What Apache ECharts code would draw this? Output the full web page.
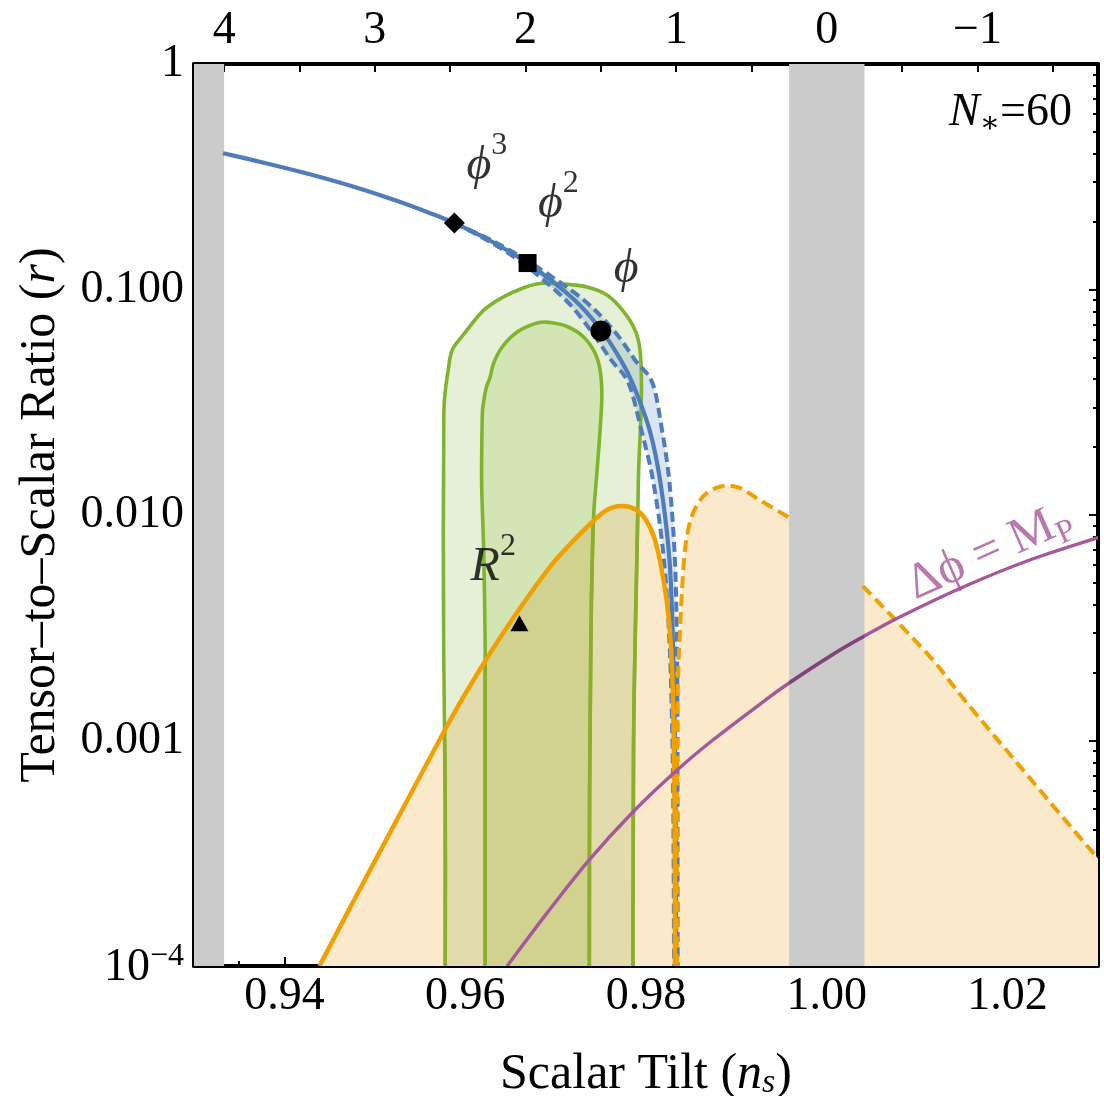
<!DOCTYPE html>
<html>
<head>
<meta charset="utf-8">
<title>Tensor-to-scalar ratio vs scalar tilt</title>
<script src="https://cdn.jsdelivr.net/npm/echarts@6/dist/echarts.min.js"></script>
<style>
  html, body { margin: 0; padding: 0; background: #fff; }
  #chart { width: 1104px; height: 1096px; }
</style>
</head>
<body>
<div id="chart"></div>
<script>
// ---------- data: (n_s, r) pairs ----------
// monomial phi^p attractor line at N* = 60
const phiCurve = [
  [0.9332, 0.402], [0.9375, 0.367], [0.9425, 0.327], [0.9475, 0.287], [0.9525, 0.247],
  [0.9560, 0.219], [0.9588, 0.197], [0.9626, 0.166], [0.9670, 0.130], [0.9721, 0.0898],
  [0.9752, 0.0648], [0.9772, 0.0487], [0.9785, 0.0385], [0.9804, 0.0238], [0.9816, 0.0139],
  [0.9826, 0.0063], [0.9830, 0.0025], [0.98323, 0.00082], [0.9833, 0.000267], [0.98332, 0.0001]
];
// dashed edges of the phi^p band
const phiBandHigh = [
  [0.95878, 0.197], [0.96283, 0.1658], [0.96747, 0.1297], [0.97311, 0.0898], [0.97657, 0.0648],
  [0.97878, 0.0487], [0.98071, 0.0385], [0.98177, 0.0238], [0.98260, 0.01387], [0.98320, 0.0063],
  [0.98343, 0.0025], [0.98348, 0.00082], [0.98349, 0.000267], [0.98350, 0.0001]
];
const phiBandLow = [
  [0.95878, 0.197], [0.96239, 0.1658], [0.96648, 0.1297], [0.97112, 0.0898], [0.97401, 0.0648],
  [0.97613, 0.0487], [0.97806, 0.0385], [0.97948, 0.0238], [0.98083, 0.01387], [0.98199, 0.0063],
  [0.98264, 0.0025], [0.98296, 0.00082], [0.98306, 0.000267], [0.98310, 0.0001]
];
// Planck contours (95% outer, 68% inner)
const planck95 = [
  [0.95779, 1e-4], [0.95779, 5.45e-4], [0.95762, 2.52e-3], [0.95757, 8.32e-3], [0.95762, 0.01942],
  [0.95768, 0.03139], [0.95812, 0.04395], [0.95856, 0.0539], [0.95978, 0.06284], [0.96199, 0.0806],
  [0.96420, 0.0926], [0.96641, 0.1016], [0.96829, 0.1064], [0.97083, 0.1058], [0.97348, 0.1026],
  [0.97569, 0.0945], [0.97746, 0.0803], [0.97878, 0.06613], [0.97934, 0.0539], [0.97950, 0.03694],
  [0.97939, 0.02456], [0.97917, 0.01504], [0.97901, 7.0e-3], [0.97878, 2.52e-3], [0.97862, 9.08e-4],
  [0.97856, 1e-4]
];
const planck68 = [
  [0.96221, 1e-4], [0.96221, 5.45e-4], [0.96221, 2.52e-3], [0.96204, 7.0e-3], [0.96182, 0.01386],
  [0.96188, 0.02637], [0.96199, 0.03075], [0.96232, 0.03657], [0.96276, 0.04093], [0.96315, 0.04721],
  [0.96409, 0.05559], [0.96575, 0.06479], [0.96796, 0.07103], [0.96939, 0.0714], [0.97127, 0.06854],
  [0.97304, 0.06188], [0.97436, 0.05231], [0.97492, 0.04395], [0.97512, 0.03405], [0.97492, 0.02381],
  [0.97459, 0.01583], [0.97420, 9.8e-3], [0.97400, 4.99e-3], [0.97389, 2.52e-3], [0.97376, 5.45e-4],
  [0.97373, 1e-4]
];
// R^2 family: solid edge, and dashed edge split by the n_s = 1 band
const r2Solid = [
  [0.94387, 1e-4], [0.94696, 1.72e-4], [0.95061, 3.24e-4], [0.95757, 1.08e-3], [0.96000, 1.61e-3],
  [0.96298, 2.52e-3], [0.96608, 3.87e-3], [0.96972, 6.12e-3], [0.97348, 8.85e-3], [0.97547, 0.01041],
  [0.97713, 0.01096], [0.97878, 0.01063], [0.98000, 9.50e-3], [0.98099, 7.75e-3], [0.98188, 5.31e-3],
  [0.98254, 3.42e-3], [0.98293, 1.855e-3], [0.98313, 6.68e-4], [0.98320, 2.41e-4], [0.98320, 1e-4]
];
const r2DashedLeft = [
  [0.98340, 1e-4], [0.98343, 7.39e-4], [0.98354, 1.85e-3], [0.98376, 3.09e-3], [0.98398, 4.65e-3],
  [0.98431, 7.0e-3], [0.98486, 9.3e-3], [0.98564, 0.01106], [0.98674, 0.01253], [0.98851, 0.01346],
  [0.99039, 0.01318], [0.99260, 0.01164], [0.99591, 9.71e-3]
];
const r2DashedRight = [
  [1.00398, 4.84e-3], [1.00729, 3.53e-3], [1.01171, 2.28e-3], [1.01525, 1.51e-3],
  [1.02077, 8.2e-4], [1.02608, 4.58e-4], [1.03000, 3.0e-4]
];
// Planckian field excursion
const deltaPhiPlanck = [
  [0.96464, 1e-4], [0.96906, 1.72e-4], [0.97370, 2.95e-4], [0.97856, 4.82e-4], [0.98320, 7.25e-4],
  [0.98740, 1.005e-3], [0.99337, 1.528e-3], [0.99591, 1.808e-3], [1.00066, 2.406e-3], [1.00398, 2.877e-3],
  [1.00807, 3.53e-3], [1.01547, 4.87e-3], [1.02276, 6.38e-3], [1.03000, 7.94e-3]
];
// excluded n_s bands
const grayBands = [[0.93000, 0.93333], [0.99583, 1.00417]];
// model points: phi^3, phi^2, phi, R^2
const markerNs = [0.9588, 0.9669, 0.9750, 0.9660];
const markerR = [0.197, 0.131, 0.0655, 0.00331];
// annotation anchors
const labelAnchors = {
  phi3: [0.9624, 0.375], phi2: [0.9703, 0.2545], phi1: [0.9778, 0.130],
  r2: [0.9631, 0.00625], dphi: [1.0180, 0.00686]
};
// axes
const xTickValues = [0.94, 0.96, 0.98, 1.00, 1.02];
const xMinorTicks = [0.935, 0.945, 0.95, 0.955, 0.965, 0.97, 0.975, 0.985, 0.99, 0.995, 1.005, 1.01, 1.015, 1.025];
const pTickValues = [4, 3.5, 3, 2.5, 2, 1.5, 1, 0.5, 0, -0.5, -1, -1.5];
const pLabelValues = [4, 3, 2, 1, 0, -1];
const yTickLabels = ['10^\u22124', '0.001', '0.010', '0.100', '1'];
const yMinorMultipliers = [2, 3, 4, 5, 6, 7, 8, 9];
const yDecades = [-4, -3, -2, -1];

// ---------- styling ----------
const SERIF = "'Liberation Serif', 'DejaVu Serif', serif";
const R_MIN = 1e-4, R_MAX = 1;
const BLUE = '#4f7dbb', ORANGE = '#f0a000', GREEN = '#7fb42e', PURPLE = '#a6589b';
const FILL = {
  orange: '#fbe9cc', outer: '#e6f0d7', inner: '#d3e5b4', band: '#dbe5f2',
  outerOnOrange: '#e2dbac', innerOnOrange: '#d1d290', greenOnOrange: '#8bae2c',
  bandOnGreen: '#c8d9cf', purpleOnGray: '#81457a', gray: '#cbcbcb'
};

// log-position minor ticks for the decorative tick axes
const yMinorLog = [];
yDecades.forEach(d => yMinorMultipliers.forEach(m => yMinorLog.push(d + Math.log10(m))));

// Catmull-Rom spline through pixel points, as SVG path data
function splinePath(px) {
  let d = 'M' + px[0][0] + ' ' + px[0][1];
  for (let i = 0; i < px.length - 1; i++) {
    const p0 = px[Math.max(i - 1, 0)], p1 = px[i], p2 = px[i + 1], p3 = px[Math.min(i + 2, px.length - 1)];
    const c1x = p1[0] + (p2[0] - p0[0]) / 6, c1y = p1[1] + (p2[1] - p0[1]) / 6;
    const c2x = p2[0] - (p3[0] - p1[0]) / 6, c2y = p2[1] - (p3[1] - p1[1]) / 6;
    d += ' C' + c1x + ' ' + c1y + ' ' + c2x + ' ' + c2y + ' ' + p2[0] + ' ' + p2[1];
  }
  return d;
}

// path data of a curve: 'line' (open), 'closed', 'area' (filled down to the axis)
function curvePath(api, pts, mode) {
  const px = pts.map(p => api.coord(p));
  let d = splinePath(px);
  if (mode === 'closed') d += ' Z';
  if (mode === 'area') {
    const bottom = api.coord([pts[0][0], R_MIN])[1];
    d += ' L' + px[px.length - 1][0] + ' ' + bottom + ' L' + px[0][0] + ' ' + bottom + ' Z';
  }
  return d;
}

// path data of the band between the dashed phi^p edges
function bandPath(api) {
  const a = splinePath(phiBandHigh.map(p => api.coord(p)));
  const b = splinePath(phiBandLow.slice().reverse().map(p => api.coord(p))).replace(/^M/, ' L');
  return a + b + ' Z';
}

// one custom series that draws a single element built by `build(api)`
function drawSeries(build, z, data) {
  return {
    type: 'custom', coordinateSystem: 'cartesian2d', xAxisIndex: 0, yAxisIndex: 0,
    silent: true, clip: true, z: z, animation: false,
    data: data,
    renderItem: function (params, api) {
      return params.dataIndex === 0 ? build(api) : null;
    }
  };
}

function pathEl(d, style, clipD) {
  const el = { type: 'path', shape: { pathData: d }, style: style };
  if (clipD) el.clipPath = { type: 'path', shape: { pathData: clipD } };
  return el;
}

const stroke = (color, width, dash) => ({
  fill: 'none', stroke: color, lineWidth: width, lineDash: dash || null, lineJoin: 'round', lineCap: 'butt'
});
const solidFill = color => ({ fill: color, stroke: 'none' });

function curveSeries(pts, mode, style, z) {
  return drawSeries(api => pathEl(curvePath(api, pts, mode), style), z, pts);
}

const W = { green: 3.6, blue: 4.2, blueDash: 4, orange: 4.5, orangeDash: 4, purple: 3.4 };

const series = [
  // R^2 regions
  curveSeries(r2Solid, 'area', solidFill(FILL.orange), 1),
  curveSeries(r2DashedLeft, 'area', solidFill(FILL.orange), 1),
  curveSeries(r2DashedRight, 'area', solidFill(FILL.orange), 1),
  // Planck regions
  curveSeries(planck95, 'closed', solidFill(FILL.outer), 2),
  curveSeries(planck68, 'closed', solidFill(FILL.inner), 2),
  // Planck regions where they overlap the R^2 region
  drawSeries(api => pathEl(curvePath(api, planck95, 'closed'), solidFill(FILL.outerOnOrange),
    curvePath(api, r2Solid, 'area')), 3, planck95),
  drawSeries(api => pathEl(curvePath(api, planck68, 'closed'), solidFill(FILL.innerOnOrange),
    curvePath(api, r2Solid, 'area')), 3, planck68),
  // phi^p band, and its part over the Planck region
  drawSeries(api => pathEl(bandPath(api), solidFill(FILL.band)), 4, phiBandHigh),
  drawSeries(api => pathEl(bandPath(api), solidFill(FILL.bandOnGreen),
    curvePath(api, planck95, 'closed')), 4, phiBandHigh),
  // Planck contour lines
  curveSeries(planck95, 'line', stroke(GREEN, W.green), 5),
  curveSeries(planck68, 'line', stroke(GREEN, W.green), 5),
  drawSeries(api => pathEl(curvePath(api, planck95, 'line'), stroke(FILL.greenOnOrange, W.green),
    curvePath(api, r2Solid, 'area')), 5, planck95),
  drawSeries(api => pathEl(curvePath(api, planck68, 'line'), stroke(FILL.greenOnOrange, W.green),
    curvePath(api, r2Solid, 'area')), 5, planck68),
  // excluded bands
  {
    type: 'custom', coordinateSystem: 'cartesian2d', xAxisIndex: 0, yAxisIndex: 0,
    silent: true, clip: true, z: 6, animation: false,
    data: grayBands,
    renderItem: function (params, api) {
      const a = api.coord([api.value(0), R_MAX]);
      const b = api.coord([api.value(1), R_MIN]);
      return { type: 'rect', shape: { x: a[0], y: a[1], width: b[0] - a[0], height: b[1] - a[1] },
        style: solidFill(FILL.gray) };
    }
  },
  // phi^p lines
  curveSeries(phiBandHigh, 'line', stroke(BLUE, W.blueDash, [10, 5]), 7),
  curveSeries(phiBandLow, 'line', stroke(BLUE, W.blueDash, [10, 5]), 7),
  curveSeries(phiCurve, 'line', stroke(BLUE, W.blue), 7),
  // R^2 edges
  curveSeries(r2Solid, 'line', stroke(ORANGE, W.orange), 8),
  curveSeries(r2DashedLeft, 'line', stroke(ORANGE, W.orangeDash, [12, 6]), 8),
  curveSeries(r2DashedRight, 'line', stroke(ORANGE, W.orangeDash, [12, 6]), 8),
  // Delta phi = M_P, darker where it crosses the n_s = 1 band
  curveSeries(deltaPhiPlanck, 'line', stroke(PURPLE, W.purple), 9),
  {
    type: 'custom', coordinateSystem: 'cartesian2d', xAxisIndex: 0, yAxisIndex: 0,
    silent: true, clip: true, z: 9, animation: false,
    data: grayBands,
    renderItem: function (params, api) {
      const a = api.coord([api.value(0), R_MAX]);
      const b = api.coord([api.value(1), R_MIN]);
      const el = pathEl(curvePath(api, deltaPhiPlanck, 'line'), stroke(FILL.purpleOnGray, W.purple));
      el.clipPath = { type: 'rect', shape: { x: a[0], y: a[1], width: b[0] - a[0], height: b[1] - a[1] } };
      return el;
    }
  },
  // model points
  {
    type: 'scatter', xAxisIndex: 0, yAxisIndex: 0, z: 10, silent: true, animation: false,
    itemStyle: { color: '#000', opacity: 1 },
    data: markerNs.map((ns, i) => ({
      value: [ns, markerR[i]],
      symbol: ['diamond', 'rect', 'circle', 'triangle'][i],
      symbolSize: [[21, 21], 18, 21, [18, 16]][i]
    }))
  },
  // annotations
  {
    type: 'scatter', xAxisIndex: 0, yAxisIndex: 0, z: 11, silent: true, animation: false,
    symbolSize: 1, itemStyle: { color: 'rgba(0,0,0,0)' },
    label: {
      show: true, position: 'inside', color: '#000', fontFamily: SERIF,
      rich: {
        i: { fontFamily: SERIF, fontStyle: 'italic', fontSize: 48, lineHeight: 60, verticalAlign: 'bottom', color: '#000' },
        p: { fontFamily: SERIF, fontSize: 32, lineHeight: 24, verticalAlign: 'top', color: '#000' },
        u: { fontFamily: SERIF, fontSize: 50, lineHeight: 60, color: PURPLE },
        q: { fontFamily: SERIF, fontSize: 33, lineHeight: 22, verticalAlign: 'bottom', color: PURPLE }
      }
    },
    data: [
      { value: labelAnchors.phi3, label: { formatter: '{i|\u03d5}{p|3}' } },
      { value: labelAnchors.phi2, label: { formatter: '{i|\u03d5}{p|2}' } },
      { value: labelAnchors.phi1, label: { formatter: '{i|\u03d5}' } },
      { value: labelAnchors.r2, label: { formatter: '{i|R}{p|2}' } },
      { value: labelAnchors.dphi, label: { formatter: '{u|\u0394\u03d5 = M}{q|P}', rotate: 24 } }
    ]
  }
];

const tickText = { color: '#000', fontFamily: SERIF, fontSize: 46 };
const frame = { show: true, onZero: false, lineStyle: { color: '#000', width: 4 } };
const noLine = { show: false, onZero: false };
const tickStyle = { color: '#000', width: 2 };

const option = {
  backgroundColor: '#ffffff',
  animation: false,
  grid: { left: 194, right: 6, top: 64, bottom: 130, containLabel: false, outerBoundsMode: 'none' },
  xAxis: [
    {
      type: 'value', position: 'bottom', min: 0.93, max: 1.03,
      axisLine: frame, splitLine: { show: false },
      axisTick: { show: true, inside: true, length: 9, lineStyle: tickStyle, customValues: xTickValues },
      axisLabel: Object.assign({ margin: 8, customValues: xTickValues, formatter: v => v.toFixed(2) }, tickText),
      name: 'Scalar Tilt ({i|n}{s|s})', nameLocation: 'middle', nameGap: 84,
      nameTextStyle: {
        color: '#000', fontFamily: SERIF, fontSize: 50,
        rich: {
          i: { fontFamily: SERIF, fontSize: 50, fontStyle: 'italic', color: '#000' },
          s: { fontFamily: SERIF, fontSize: 34, fontStyle: 'italic', verticalAlign: 'bottom', lineHeight: 36, color: '#000' }
        }
      }
    },
    {
      type: 'value', position: 'top', min: -1.8, max: 4.2, inverse: true,
      axisLine: frame, splitLine: { show: false },
      axisTick: { show: true, inside: true, length: 8, lineStyle: tickStyle, customValues: pTickValues },
      axisLabel: Object.assign({ margin: 10, customValues: pLabelValues,
        formatter: v => (v < 0 ? '\u2212' + Math.abs(v) : String(v)) }, tickText)
    },
    {
      type: 'value', position: 'bottom', min: 0.93, max: 1.03,
      axisLine: noLine, splitLine: { show: false }, axisLabel: { show: false },
      axisTick: { show: true, inside: true, length: 5, lineStyle: tickStyle, customValues: xMinorTicks }
    }
  ],
  yAxis: [
    {
      type: 'log', logBase: 10, position: 'left', min: R_MIN, max: R_MAX, splitNumber: 4,
      axisLine: frame, splitLine: { show: false }, minorTick: { show: false },
      axisTick: { show: true, inside: true, length: 9, lineStyle: tickStyle },
      axisLabel: Object.assign({
        margin: 10, showMinLabel: true, showMaxLabel: true,
        formatter: v => {
          const s = yTickLabels[Math.round(Math.log10(v)) + 4] || '';
          if (s.indexOf('^') >= 0) {
            const parts = s.split('^');
            return '{b|' + parts[0] + '}{e|' + parts[1] + '}';
          }
          return s;
        },
        rich: {
          b: { fontFamily: SERIF, fontSize: 46, lineHeight: 50, verticalAlign: 'bottom', color: '#000' },
          e: { fontFamily: SERIF, fontSize: 32, lineHeight: 26, verticalAlign: 'top', color: '#000' }
        }
      }, tickText),
      name: 'Tensor\u2013to\u2013Scalar Ratio ({i|r})', nameLocation: 'middle', nameGap: 128,
      nameTextStyle: {
        color: '#000', fontFamily: SERIF, fontSize: 50,
        rich: { i: { fontFamily: SERIF, fontSize: 50, fontStyle: 'italic', color: '#000' } }
      }
    },
    {
      type: 'log', logBase: 10, position: 'right', min: R_MIN, max: R_MAX, splitNumber: 4,
      axisLine: frame, splitLine: { show: false }, axisLabel: { show: false },
      axisTick: { show: true, inside: true, length: 9, lineStyle: tickStyle }
    },
    {
      type: 'value', position: 'left', min: -4, max: 0,
      axisLine: noLine, splitLine: { show: false }, axisLabel: { show: false },
      axisTick: { show: true, inside: true, length: 5, lineStyle: tickStyle, customValues: yMinorLog }
    },
    {
      type: 'value', position: 'right', min: -4, max: 0,
      axisLine: noLine, splitLine: { show: false }, axisLabel: { show: false },
      axisTick: { show: true, inside: true, length: 5, lineStyle: tickStyle, customValues: yMinorLog }
    }
  ],
  graphic: [{
    type: 'text', right: 32, top: 90, z: 20,
    style: {
      text: '{i|N}{s|\u2217}{t|=60}',
      fill: '#000',
      rich: {
        i: { fontFamily: SERIF, fontStyle: 'italic', fontSize: 46, lineHeight: 52, fill: '#000' },
        s: { fontFamily: SERIF, fontSize: 30, lineHeight: 22, verticalAlign: 'bottom', fill: '#000' },
        t: { fontFamily: SERIF, fontSize: 46, lineHeight: 52, fill: '#000' }
      }
    }
  }],
  series: series
};

const chart = echarts.init(document.getElementById('chart'), null, { renderer: 'canvas' });
chart.setOption(option);
</script>
</body>
</html>
